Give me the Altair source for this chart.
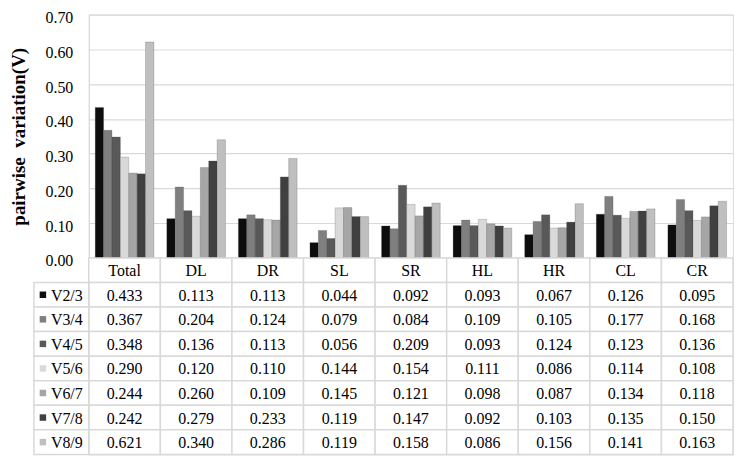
import altair as alt
import pandas as pd

categories = ["Total", "DL", "DR", "SL", "SR", "HL", "HR", "CL", "CR"]
series = ["V2/3", "V3/4", "V4/5", "V5/6", "V6/7", "V7/8", "V8/9"]
colors = ["#0d0d0d", "#7f7f7f", "#595959", "#d9d9d9", "#a6a6a6", "#404040", "#bfbfbf"]

v23 = [0.433, 0.113, 0.113, 0.044, 0.092, 0.093, 0.067, 0.126, 0.095]
v34 = [0.367, 0.204, 0.124, 0.079, 0.084, 0.109, 0.105, 0.177, 0.168]
v45 = [0.348, 0.136, 0.113, 0.056, 0.209, 0.093, 0.124, 0.123, 0.136]
v56 = [0.290, 0.120, 0.110, 0.144, 0.154, 0.111, 0.086, 0.114, 0.108]
v67 = [0.244, 0.260, 0.109, 0.145, 0.121, 0.098, 0.087, 0.134, 0.118]
v78 = [0.242, 0.279, 0.233, 0.119, 0.147, 0.092, 0.103, 0.135, 0.150]
v89 = [0.621, 0.340, 0.286, 0.119, 0.158, 0.086, 0.156, 0.141, 0.163]

y_ticks = [0.0, 0.1, 0.2, 0.3, 0.4, 0.5, 0.6, 0.7]

all_vals = [v23, v34, v45, v56, v67, v78, v89]
rows = []
for s, vals in zip(series, all_vals):
    for c, v in zip(categories, vals):
        rows.append({"cat": c, "series": s, "value": v, "label": f"{v:.3f}"})
df = pd.DataFrame(rows)

FONT = "Liberation Serif"
GRID = "#d9d9d9"
W = 646

color_scale = alt.Scale(domain=series, range=colors)

bars = alt.Chart(df).mark_bar(strokeWidth=0.6, stroke="#3a3a3a", strokeOpacity=0.35).encode(
    x=alt.X("cat:N", sort=categories, axis=None,
            scale=alt.Scale(paddingInner=0.18, paddingOuter=0.09)),
    xOffset=alt.XOffset("series:N", sort=series, scale=alt.Scale(paddingInner=0)),
    y=alt.Y("value:Q",
            scale=alt.Scale(domain=[0, 0.7], nice=False),
            axis=alt.Axis(values=y_ticks, format=".2f", title="pairwise\u00a0\u00a0variation(V)",
                          titleFont=FONT, titleFontSize=19, titleFontWeight="bold",
                          titleColor="black", titlePadding=16,
                          labelFont=FONT, labelFontSize=16, labelColor="black",
                          labelPadding=16, labelOffset=3, ticks=False, domainColor=GRID,
                          gridColor=GRID, gridWidth=1.2)),
    color=alt.Color("series:N", scale=color_scale, legend=None),
).properties(width=W, height=244)

# table
header = pd.DataFrame({"cat": categories, "row": ["_h"] * len(categories), "label": categories})
cells = pd.concat([header, df[["cat", "series", "label"]].rename(columns={"series": "row"})],
                  ignore_index=True)
row_domain = ["_h"] + series

xs = alt.X("cat:N", sort=categories, axis=None, scale=alt.Scale(paddingInner=0, paddingOuter=0))
ys = alt.Y("row:N", axis=None, scale=alt.Scale(domain=row_domain, paddingInner=0, paddingOuter=0))

cell_rects = alt.Chart(cells).mark_rect(fill="white", stroke=GRID, strokeWidth=1.5).encode(x=xs, y=ys)
cell_text = alt.Chart(cells).mark_text(font=FONT, fontSize=16, color="black", dy=1).encode(
    x=xs, y=ys, text="label:N")

lab = pd.DataFrame({"row": series})
lab_rects = alt.Chart(lab).mark_rect(fill="white", stroke=GRID, strokeWidth=1.5).encode(
    x=alt.value(-55), x2=alt.value(0), y=ys)
swatch = alt.Chart(lab).mark_square(size=42, opacity=1).encode(
    x=alt.value(-46), y=ys,
    color=alt.Color("row:N", scale=color_scale, legend=None))
lab_text = alt.Chart(lab).mark_text(font=FONT, fontSize=16, color="black", align="left", dy=1).encode(
    x=alt.value(-38), y=ys, text="row:N")

table = alt.layer(cell_rects, lab_rects, cell_text, swatch, lab_text).properties(width=W, height=197)

chart = alt.vconcat(bars, table, spacing=0, bounds="flush").resolve_scale(
    x="independent", y="independent", color="shared").properties(
    padding={"left": 1, "top": 0, "right": 0, "bottom": 0}
).configure_view(stroke=None).configure(background="white")

chart.save("out.html", embed_options={"renderer": "svg", "actions": False})
